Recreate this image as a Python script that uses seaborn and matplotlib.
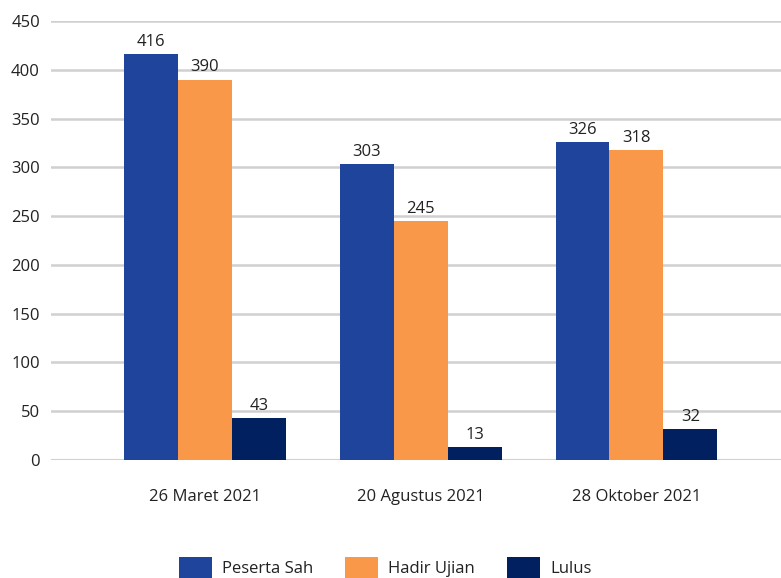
import matplotlib
matplotlib.use("Agg")
import matplotlib.pyplot as plt
import seaborn as sns
import pandas as pd

categories = ["26 Maret 2021", "20 Agustus 2021", "28 Oktober 2021"]
series_names = ["Peserta Sah", "Hadir Ujian", "Lulus"]
peserta_sah = [416, 303, 326]
hadir_ujian = [390, 245, 318]
lulus = [43, 13, 32]
colors = ["#1F449C", "#F99848", "#002060"]

rows = []
for name, vals in zip(series_names, [peserta_sah, hadir_ujian, lulus]):
    for c, v in zip(categories, vals):
        rows.append({"Tanggal": c, "Seri": name, "Nilai": v})
df = pd.DataFrame(rows)

sns.set_theme(style="white")
plt.rcParams['font.family'] = ['Open Sans', 'DejaVu Sans']

fig = plt.figure(figsize=(7.81, 5.78), dpi=100)
ax = fig.add_axes([51/781, 118/578, 1 - 51/781, (460-21)/578])

sns.barplot(data=df, x="Tanggal", y="Nilai", hue="Seri", order=categories,
            hue_order=series_names, palette=colors, width=0.75, saturation=1,
            linewidth=0, edgecolor="none", ax=ax, legend=True)

for cont in ax.containers:
    ax.bar_label(cont, padding=3, fontsize=12, color="#222222")

ax.set_ylim(0, 450)
ax.set_xlim(-0.713, 2.67)
ax.set_yticks(range(0, 451, 50))
ax.yaxis.grid(True, color="#d0d0d0", linewidth=1.8)
ax.set_axisbelow(True)
for s in ax.spines.values():
    s.set_visible(False)
ax.axhline(0, color="#d0d0d0", linewidth=2.2, zorder=0)
ax.set_xlabel("")
ax.set_ylabel("")
ax.tick_params(axis="both", length=0, labelsize=12, labelcolor="#222222")
ax.tick_params(axis="x", pad=21)
ax.tick_params(axis="y", pad=8)

ax.legend(loc="center", bbox_to_anchor=(385/781, 10/578), bbox_transform=fig.transFigure,
          ncol=3, frameon=False, fontsize=12, handlelength=2.0, handleheight=1.6,
          handletextpad=0.6, columnspacing=1.9, labelcolor="#222222")

fig.savefig("out.png", dpi=100)
